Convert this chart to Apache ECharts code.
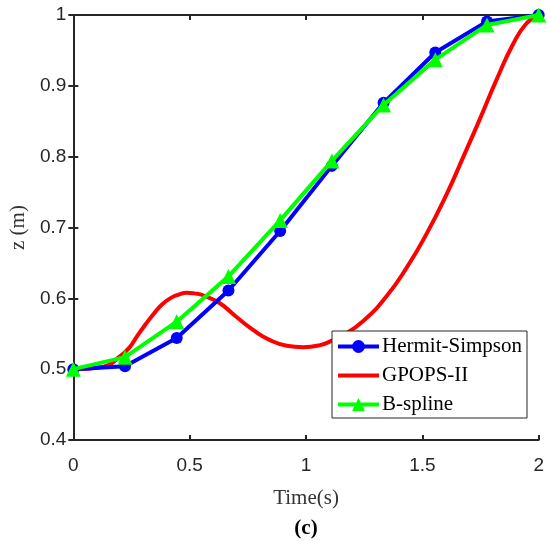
<!DOCTYPE html>
<html><head><meta charset="utf-8">
<script src="https://cdn.jsdelivr.net/npm/echarts@6/dist/echarts.min.js"></script>
<style>html,body{margin:0;padding:0;background:#fff}#c{width:547px;height:541px}</style>
</head><body><div id="c"></div>
<script>
const timeNodes = [0, 0.2222, 0.4444, 0.6667, 0.8889, 1.1111, 1.3333, 1.5556, 1.7778, 2];
const hermitSimpson = [0.5, 0.504, 0.544, 0.611, 0.695, 0.787, 0.876, 0.947, 0.991, 1.0];
const bSpline = [0.5, 0.517, 0.567, 0.631, 0.710, 0.794, 0.873, 0.937, 0.986, 1.0];
const gpopsTime = [0, 0.13, 0.2, 0.24, 0.273, 0.31, 0.345, 0.38, 0.416, 0.45, 0.488, 0.52, 0.56, 0.63, 0.70, 0.774, 0.845, 0.917, 0.988, 1.06, 1.117, 1.146, 1.246, 1.346, 1.432, 1.518, 1.603, 1.675, 1.747, 1.818, 1.89, 1.947, 2.0];
const gpops = [0.5, 0.5035, 0.518, 0.530, 0.546, 0.563, 0.578, 0.591, 0.600, 0.605, 0.608, 0.607, 0.604, 0.593, 0.574, 0.555, 0.541, 0.533, 0.531, 0.534, 0.541, 0.545, 0.568, 0.603, 0.643, 0.691, 0.746, 0.799, 0.853, 0.908, 0.959, 0.988, 1.0];
const xTicks = [0, 0.5, 1, 1.5, 2];
const yTicks = [0.4, 0.5, 0.6, 0.7, 0.8, 0.9, 1];
const legendNames = ['Hermit-Simpson', 'GPOPS-II', 'B-spline'];

const zip = (a, b) => a.map((v, i) => [v, b[i]]);
const axisColor = '#262626';
const sans = 'Liberation Sans';
const serif = 'Liberation Serif';

const chart = echarts.init(document.getElementById('c'));
chart.setOption({
  animation: false,
  grid: { left: 73, right: 8, top: 15, bottom: 101, containLabel: false },
  legend: {
    data: [
      { name: legendNames[0] },
      { name: legendNames[1], itemStyle: { opacity: 0 } },
      { name: legendNames[2] }
    ],
    orient: 'vertical',
    right: 20, bottom: 123,
    backgroundColor: '#fff',
    borderColor: axisColor, borderWidth: 1,
    padding: [5, 5, 3, 4],
    itemGap: 8,
    itemWidth: 41, itemHeight: 16,
    lineStyle: { width: 4 },
    textStyle: { fontFamily: serif, fontSize: 21, lineHeight: 21, color: '#000', padding: [0, 0, 0, -2] }
  },
  xAxis: [{
    type: 'value', min: 0, max: 2, interval: 0.5,
    axisLine: { show: true, lineStyle: { color: axisColor, width: 2 } },
    axisTick: { show: true, inside: true, length: 5, lineStyle: { color: axisColor, width: 2 } },
    axisLabel: { fontFamily: sans, fontSize: 19, color: '#262626', margin: 16,
      formatter: v => xTicks.includes(v) ? String(v) : '' },
    splitLine: { show: false },
    name: 'Time(s)', nameLocation: 'middle', nameGap: 48,
    nameTextStyle: { fontFamily: serif, fontSize: 21, color: '#333' }
  }, {
    type: 'value', min: 0, max: 2, interval: 0.5, position: 'top',
    axisLine: { show: true, lineStyle: { color: axisColor, width: 2 } },
    axisTick: { show: true, inside: true, length: 5, lineStyle: { color: axisColor, width: 2 } },
    axisLabel: { show: false }, splitLine: { show: false }
  }],
  yAxis: [{
    type: 'value', min: 0.4, max: 1, interval: 0.1,
    axisLine: { show: true, lineStyle: { color: axisColor, width: 2 } },
    axisTick: { show: true, inside: true, length: 5, lineStyle: { color: axisColor, width: 2 } },
    axisLabel: { fontFamily: sans, fontSize: 19, color: '#262626', margin: 7,
      formatter: v => { const r = Math.round(v * 10) / 10; return r === 1 ? '1' : r.toFixed(1); } },
    splitLine: { show: false },
    name: 'z (m)', nameLocation: 'middle', nameGap: 35,
    nameTextStyle: { fontFamily: serif, fontSize: 21, color: '#333' }
  }, {
    type: 'value', min: 0.4, max: 1, interval: 0.1, position: 'right',
    axisLine: { show: true, lineStyle: { color: axisColor, width: 2 } },
    axisTick: { show: true, inside: true, length: 5, lineStyle: { color: axisColor, width: 2 } },
    axisLabel: { show: false }, splitLine: { show: false }
  }],
  graphic: [{
    type: 'text',
    style: { text: '(c)', x: 306, y: 518, textAlign: 'center', font: 'bold 21px "Liberation Serif"', fill: '#000' }
  }],
  series: [{
    name: 'Hermit-Simpson', type: 'line', data: zip(timeNodes, hermitSimpson),
    lineStyle: { color: '#0000ff', width: 4 }, itemStyle: { color: '#0000ff' },
    symbol: 'circle', symbolSize: 12, z: 2
  }, {
    name: 'GPOPS-II', type: 'line', data: zip(gpopsTime, gpops), smooth: 0.5,
    lineStyle: { color: '#ff0000', width: 4 }, itemStyle: { color: '#ff0000' },
    symbol: 'none', showSymbol: false, z: 1
  }, {
    name: 'B-spline', type: 'line', data: zip(timeNodes, bSpline),
    lineStyle: { color: '#00ff00', width: 4 }, itemStyle: { color: '#00ff00' },
    symbol: 'triangle', symbolSize: 15, z: 3
  }]
});
</script></body></html>
